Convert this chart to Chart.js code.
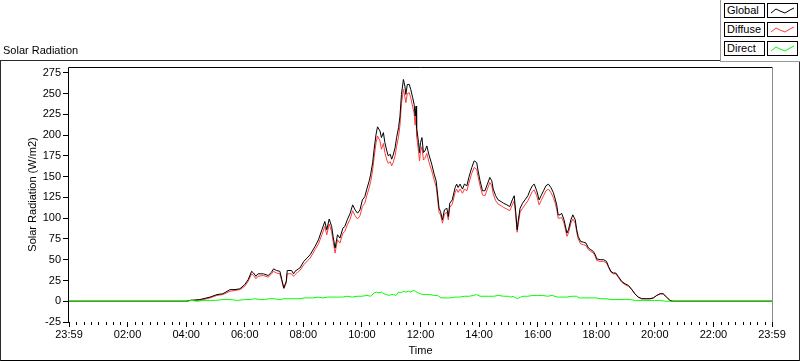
<!DOCTYPE html>
<html>
<head>
<meta charset="utf-8">
<script src="https://cdn.jsdelivr.net/npm/chart.js@4/dist/chart.umd.min.js"></script>
<style>
  html, body { margin:0; padding:0; background:#fff; }
  body { width:800px; height:361px; position:relative; overflow:hidden; font-family:"Liberation Sans", Arial, sans-serif; font-size:11px; color:#000; }
  #wrap { position:absolute; left:0; top:0; width:800px; height:361px; }
  #frame { position:absolute; left:0; top:60px; width:798px; height:299px; border:1px solid #2a2a2a; border-bottom:2px solid #000; pointer-events:none; }
  #title { position:absolute; left:3px; top:44px; line-height:13px; white-space:nowrap; }
  #legendPanel { position:absolute; left:720px; top:0; width:80px; height:61px; background:#fff; border-left:1px solid #9a9a9a; border-bottom:1px solid #9a9a9a; }
  .lbox { position:absolute; left:3px; width:37px; height:13px; border:1px solid #000; line-height:13px; padding-left:2px; box-sizing:content-box; white-space:nowrap; }
  .sbox { position:absolute; left:46px; width:29px; height:13px; border:1px solid #000; }
  .sbox svg { position:absolute; left:0; top:0; }
</style>
</head>
<body>
<div id="wrap">
  <canvas id="c" width="800" height="361"></canvas>
</div>
<div id="frame"></div>
<div id="title">Solar Radiation</div>
<div id="legendPanel"></div>

<script>
// ---- data (minutes after midnight; W/m2) ----
const xTickLabels = ['23:59','02:00','04:00','06:00','08:00','10:00','12:00','14:00','16:00','18:00','20:00','22:00','23:59'];
const yTickValues = [-25,0,25,50,75,100,125,150,175,200,225,250,275];

const timeMin = [0,240,248,268,289,303,315,330,340,350,360,367,374,378,383,387,398,408,415,419,425,432,436,440,445,447,456,460,463,470,473,481,494,504,511,518,524,528,533,538,541,545,550,555,561,565,570,576,581,586,591,596,601,606,610,615,618,622,625,629,632,637,640,644,647,651,654,658,661,664,668,671,675,678,681,685,688,690,693,697,700,704,707,709,711,712,716,718,720,723,726,729,733,737,743,748,752,755,758,761,765,769,774,777,780,785,791,794,797,801,806,810,815,819,825,830,835,838,842,847,852,857,862,866,869,874,879,885,890,897,903,908,912,915,918,920,924,929,934,940,944,949,953,958,963,967,972,977,982,987,992,996,999,1002,1006,1009,1014,1020,1023,1028,1032,1037,1040,1043,1048,1054,1059,1064,1069,1074,1078,1081,1088,1095,1101,1105,1110,1115,1120,1125,1132,1139,1146,1153,1159,1166,1173,1183,1190,1197,1204,1211,1217,1224,1231,1237,1440];

const globalRad = [0,0,1,2,5,8,9,14,14,15,20,26,36,34,30,33,33,31,35,39,37,36,26,16,24,37,37,33,36,39,40,48,56,66,74,86,96,86,99,90,78,64,80,76,88,90,98,106,116,110,106,110,122,126,135,145,153,167,183,201,210,205,197,203,191,181,175,177,171,176,185,197,209,223,249,267,259,249,261,261,255,245,237,223,235,209,191,179,191,197,179,181,187,177,165,153,145,129,112,108,98,110,112,102,118,122,137,141,137,141,135,141,139,149,161,169,167,157,145,133,133,141,149,145,135,127,122,120,118,116,114,122,127,108,86,96,112,118,122,127,133,139,141,133,122,127,133,139,141,137,131,123,116,104,104,106,98,82,86,98,104,98,86,78,72,71,70,64,62,60,56,51,50,50,48,42,36,34,34,30,24,21,19,14,9,5,3,3,3,4,7,9,9,5,1,0,0];

const diffuseRad = [0,0,1,1,4,7,8,12,13,14,18,24,33,31,27,30,31,29,33,36,34,33,24,15,22,33,33,30,32,36,37,44,52,62,69,80,90,80,93,84,72,58,74,70,82,84,92,99,109,103,99,103,114,118,127,137,144,158,173,191,199,193,183,190,179,170,166,168,163,167,175,186,198,212,238,255,246,239,250,251,245,234,226,212,224,199,180,169,180,186,170,172,178,168,157,146,138,123,107,104,94,105,107,98,113,117,131,135,131,135,130,135,133,142,154,161,159,150,139,128,127,135,143,139,129,121,117,115,113,111,109,116,121,103,83,92,107,112,116,121,126,132,134,127,116,121,127,133,135,131,125,118,111,100,100,101,94,78,82,94,99,94,83,75,69,68,67,62,60,58,54,49,48,48,46,41,35,33,33,29,23,20,18,14,9,5,3,3,3,4,7,9,9,5,1,0,0];

const directTime = [0,240,252,262,275,290,300,315,330,345,360,372,380,392,400,410,420,432,440,452,460,473,482,490,500,510,520,530,540,550,560,570,580,590,600,610,618,625,630,635,640,645,650,655,660,665,670,675,680,685,690,695,700,705,710,715,720,725,732,740,748,755,762,768,775,782,790,800,810,820,828,835,842,850,860,870,880,890,900,905,910,918,925,930,940,950,960,970,980,990,1000,1010,1020,1030,1035,1040,1045,1055,1070,1080,1090,1100,1110,1125,1140,1150,1160,1175,1190,1200,1210,1222,1235,1440];
const directRad = [0,0,1,0,1,1,1,2,2,1,2,2,3,2,2,3,3,2,3,3,3,3,4,4,4,5,4,5,5,5,5,6,5,6,6,7,6,10,11,10,11,9,8,7,8,8,7,11,10,12,11,12,11,13,12,10,9,8,8,8,7,7,4,4,4,4,5,5,6,6,7,8,6,6,6,6,7,6,6,5,6,3,5,6,6,7,7,7,6,7,5,5,5,6,6,6,4,4,4,4,3,3,2,2,2,2,1,1,1,1,1,0,0,0];

const font11 = { family: '"Liberation Sans", Arial, sans-serif', size: 11 };

function pts(xs, ys) { return xs.map((x, i) => ({ x: x, y: ys[i] })); }

const framePlugin = {
  id: 'framePlugin',
  afterDraw(chart) {
    const { ctx, chartArea: a, scales } = chart;
    const xs = scales.x;
    ctx.save();
    // minor ticks every 15 minutes
    ctx.strokeStyle = '#000';
    ctx.lineWidth = 1;
    ctx.beginPath();
    for (let m = 0; m <= 1440; m += 15) {
      if (m % 120 === 0) continue;
      const px = Math.round(xs.getPixelForValue(m)) + 0.5;
      ctx.moveTo(px, a.bottom);
      ctx.lineTo(px, a.bottom + 3);
    }
    ctx.stroke();
    // plot border: top & left black, right gray
    ctx.beginPath();
    ctx.strokeStyle = '#000';
    ctx.moveTo(Math.round(a.left) - 0.5, Math.round(a.bottom));
    ctx.lineTo(Math.round(a.left) - 0.5, Math.round(a.top) + 0.5);
    ctx.lineTo(Math.round(a.right), Math.round(a.top) + 0.5);
    ctx.stroke();
    ctx.beginPath();
    ctx.strokeStyle = '#8c8c8c';
    ctx.moveTo(Math.round(a.right) + 0.5, Math.round(a.top));
    ctx.lineTo(Math.round(a.right) + 0.5, Math.round(a.bottom));
    ctx.stroke();
    ctx.restore();
  }
};

new Chart(document.getElementById('c'), {
  type: 'line',
  data: {
    datasets: [
      { label: 'Direct', data: pts(directTime, directRad), borderColor: '#00ff00', borderWidth: 1, pointRadius: 0, tension: 0, order: 0 },
      { label: 'Global', data: pts(timeMin, globalRad), borderColor: '#000000', borderWidth: 1, pointRadius: 0, tension: 0, order: 1 },
      { label: 'Diffuse', data: pts(timeMin, diffuseRad), borderColor: '#ff3a3a', borderWidth: 1, pointRadius: 0, tension: 0, order: 2 }
    ]
  },
  options: {
    responsive: false,
    animation: false,
    parsing: true,
    plugins: { legend: { display: false }, tooltip: { enabled: false }, title: { display: false } },
    layout: { padding: { left: 0, right: 28, top: 67, bottom: 0 } },
    scales: {
      x: {
        type: 'linear', min: 0, max: 1440,
        afterBuildTicks: s => { s.ticks = xTickLabels.map((_, i) => ({ value: i * 120 })); },
        afterFit: s => { s.height = 39; },
        ticks: { autoSkip: false, maxRotation: 0, minRotation: 0, color: '#000', font: font11, padding: 1,
                 callback: (v) => xTickLabels[Math.round(v / 120)] },
        grid: { drawOnChartArea: false, tickLength: 5, tickColor: '#000', tickWidth: 1 },
        border: { display: false },
        title: { display: true, text: 'Time', color: '#000', font: font11, padding: { top: 0, bottom: 3 } }
      },
      y: {
        type: 'linear', min: -25, max: 282,
        afterBuildTicks: s => { s.ticks = yTickValues.map(v => ({ value: v })); },
        afterFit: s => { s.width = 69; },
        ticks: { color: '#000', font: font11, padding: 2, callback: v => String(v) },
        grid: { drawOnChartArea: false, tickLength: 6, tickColor: '#000', tickWidth: 1 },
        border: { display: false },
        title: { display: true, text: 'Solar Radiation (W/m2)', color: '#000', font: font11, padding: { top: 26, bottom: 0 } }
      }
    }
  },
  plugins: [framePlugin]
});

// ---- legend (text + swatches) ----
const legendItems = [
  { name: 'Global', color: '#000000', top: 3 },
  { name: 'Diffuse', color: '#ff3a3a', top: 22 },
  { name: 'Direct', color: '#00ff00', top: 41 }
];
const panel = document.getElementById('legendPanel');
legendItems.forEach(it => {
  const l = document.createElement('div');
  l.className = 'lbox';
  l.style.top = it.top + 'px';
  l.textContent = it.name;
  panel.appendChild(l);
  const s = document.createElement('div');
  s.className = 'sbox';
  s.style.top = it.top + 'px';
  s.innerHTML = '<svg width="29" height="13"><polyline points="3,9 8,5 12,7 17,9 22,6 26,4" fill="none" stroke="' + it.color + '" stroke-width="1"/></svg>';
  panel.appendChild(s);
});
</script>
</body>
</html>
